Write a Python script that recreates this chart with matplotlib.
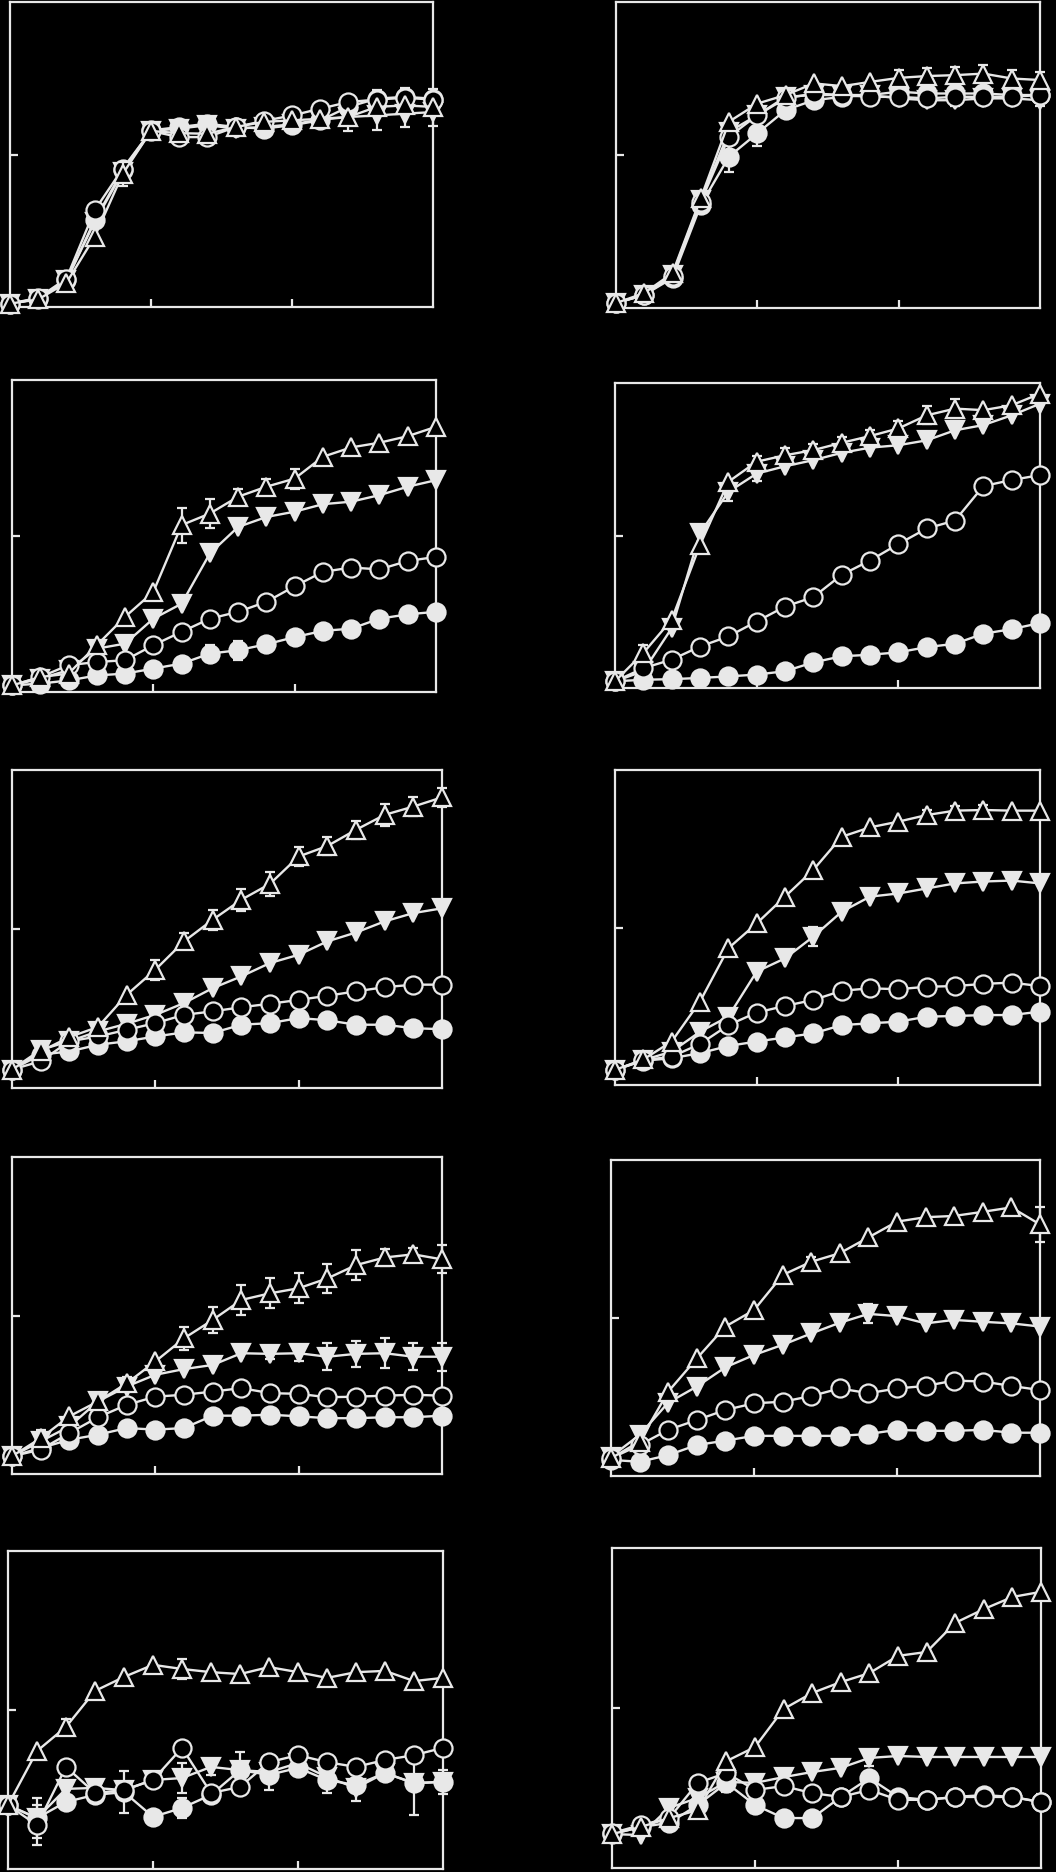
import matplotlib
matplotlib.use('Agg')
import matplotlib.pyplot as plt
import numpy as np

# tempo (16 punti, 0..15)
x = np.arange(16)

# valori, in % dell'asse y
# pannello a (alto sinistra)
a_open   = [1.1, 3.0, 9.3, 31.7, 45.4, 57.7, 55.7, 55.7, 59.0, 61.0, 62.8, 65.0, 67.2, 68.0, 68.6, 68.0]
a_filled = [1.1, 2.7, 8.7, 28.4, 44.8, 57.9, 59.0, 60.1, 59.0, 58.5, 59.6, 61.2, 65.6, 68.3, 68.9, 68.3]
a_down   = [1.1, 2.7, 8.7, 27.9, 44.3, 57.7, 58.5, 59.6, 58.5, 59.0, 59.9, 61.4, 62.3, 62.8, 63.4, 63.9]
a_up     = [1.1, 2.5, 7.9, 23.0, 43.7, 57.7, 57.0, 56.8, 59.0, 60.7, 61.2, 61.7, 62.3, 65.6, 66.1, 65.6]
a_open_e   = [0, 0, 0, 0, 0, 0, 2, 2, 0, 0, 0, 0, 0, 0, 0, 0]
a_filled_e = [0, 0, 0, 0, 0, 0, 0, 0, 0, 0, 0, 0, 0, 3, 3, 3.3]
a_down_e   = [0, 0, 0, 0, 0, 0, 0, 0, 0, 0, 0, 0, 4.5, 4.9, 4.4, 4.4]
a_up_e     = [0, 0, 0, 0, 4, 0, 0, 0, 0, 0, 0, 0, 0, 0, 0, 0]

# pannello b (alto destra)
b_open   = [1.6, 4.3, 10.3, 34.8, 56.0, 63.0, 68.5, 70.1, 69.6, 69.0, 69.0, 68.5, 69.0, 69.0, 69.0, 69.6]
b_filled = [1.6, 4.3, 9.8, 33.7, 49.5, 57.1, 64.7, 67.9, 69.0, 69.6, 70.7, 70.1, 70.1, 70.1, 69.6, 69.6]
b_down   = [1.6, 4.3, 10.9, 35.3, 57.6, 63.0, 69.0, 69.6, 69.6, 69.6, 68.5, 67.9, 67.9, 68.5, 68.5, 67.9]
b_up     = [1.6, 4.9, 11.4, 35.9, 60.9, 66.8, 69.6, 73.4, 72.5, 73.9, 75.2, 75.8, 76.1, 76.6, 75.0, 74.5]
b_open_e   = [0] * 16
b_filled_e = [0, 0, 0, 0, 4.9, 4.3, 0, 0, 0, 0, 0, 0, 0, 0, 0, 0]
b_down_e   = [0, 0, 0, 0, 0, 0, 0, 0, 0, 0, 0, 2, 2, 2, 2, 2]
b_up_e     = [0, 0, 0, 0, 0, 0, 0, 0, 0, 0, 2.7, 2.7, 2.7, 2.7, 2.7, 2.7]

# pannello c
c_open   = [2.1, 4.8, 8.6, 9.6, 10.2, 15.0, 19.3, 23.5, 25.7, 28.9, 33.9, 38.5, 39.9, 39.3, 42.0, 43.3]
c_filled = [2.1, 2.7, 3.7, 5.3, 5.9, 7.5, 9.1, 12.3, 13.4, 15.3, 17.6, 19.6, 20.3, 23.5, 24.9, 25.7]
c_down   = [2.1, 4.3, 7.0, 13.9, 15.5, 23.5, 28.3, 44.4, 52.9, 56.1, 57.8, 60.2, 61.0, 63.1, 65.8, 67.9]
c_up     = [2.1, 4.8, 5.9, 15.0, 24.1, 32.1, 53.5, 57.2, 62.6, 65.8, 68.4, 75.4, 78.4, 79.9, 82.0, 85.0]
c_open_e   = [0] * 16
c_filled_e = [0, 0, 0, 0, 0, 0, 0, 2.7, 3.0, 0, 0, 0, 0, 0, 0, 0]
c_down_e   = [0] * 16
c_up_e     = [0, 0, 0, 0, 0, 0, 5.6, 4.5, 2.5, 2.5, 3.2, 0, 0, 0, 0, 0]

# pannello d
d_open   = [2.2, 6.5, 9.3, 13.6, 16.9, 21.8, 26.7, 29.8, 37.1, 41.8, 47.2, 52.3, 54.9, 66.2, 68.2, 69.8]
d_filled = [2.2, 2.7, 2.9, 3.3, 3.8, 4.4, 5.5, 8.4, 10.4, 10.9, 11.7, 13.4, 14.5, 17.8, 19.3, 21.3]
d_down   = [2.2, 5.5, 19.6, 50.7, 64.3, 70.3, 72.7, 74.7, 77.1, 78.8, 79.6, 81.2, 84.5, 86.2, 89.4, 93.2]
d_up     = [2.2, 11.5, 22.4, 46.9, 67.6, 74.2, 76.3, 78.0, 80.4, 82.6, 85.1, 89.4, 91.6, 91.1, 92.7, 96.5]
d_open_e   = [0] * 16
d_filled_e = [0] * 16
d_down_e   = [0, 0, 0, 0, 3, 2.5, 0, 0, 0, 0, 0, 0, 0, 0, 0, 0]
d_up_e     = [0, 2.7, 0, 0, 0, 2, 2.5, 2, 2, 2, 2.5, 3, 3, 0, 0, 0]

# pannello e
e_open   = [5.8, 8.4, 14.7, 16.2, 18.3, 20.4, 23.0, 24.1, 25.4, 26.5, 27.7, 29.0, 30.4, 31.7, 32.5, 32.5]
e_filled = [5.8, 10.5, 11.5, 13.6, 14.7, 16.2, 17.5, 17.3, 19.9, 20.4, 22.0, 21.3, 19.9, 19.9, 18.8, 18.5]
e_down   = [5.8, 12.0, 14.7, 17.8, 20.2, 23.0, 26.7, 31.4, 35.1, 39.3, 41.9, 46.1, 48.9, 52.4, 55.0, 56.5]
e_up     = [5.8, 11.5, 16.0, 19.2, 29.3, 37.2, 46.1, 52.9, 59.2, 64.2, 72.8, 76.1, 81.2, 85.9, 88.5, 91.4]
e_open_e   = [0] * 16
e_filled_e = [0] * 16
e_down_e   = [0] * 16
e_up_e     = [0, 0, 0, 0, 0, 3.1, 2.5, 3.1, 3.4, 3.7, 3.1, 2.9, 2.9, 3.4, 2.9, 2.9]

# pannello f
f_open   = [4.8, 7.9, 9.0, 13.0, 19.0, 23.0, 25.1, 27.0, 29.9, 30.7, 30.4, 31.2, 31.4, 32.1, 32.5, 31.4]
f_filled = [4.8, 7.7, 8.5, 10.1, 12.4, 13.8, 15.1, 16.4, 19.0, 19.6, 20.1, 21.7, 21.9, 22.2, 22.2, 23.3]
f_down   = [4.8, 7.9, 10.6, 16.9, 21.7, 36.0, 40.2, 47.1, 55.0, 59.8, 60.8, 62.4, 64.0, 64.6, 64.9, 64.0]
f_up     = [4.8, 8.1, 13.8, 26.5, 43.4, 51.3, 59.8, 68.3, 78.8, 81.8, 83.6, 85.7, 87.1, 87.3, 87.1, 87.1]
f_open_e   = [0] * 16
f_filled_e = [0] * 16
f_down_e   = [0, 0, 0, 0, 0, 0, 0, 3.0, 0, 0, 0, 0, 0, 0, 0, 0]
f_up_e     = [0, 0, 0, 0, 0, 0, 0, 0, 0, 0, 0, 1.5, 1.5, 1.5, 0, 0]

# pannello g
g_open   = [5.6, 7.7, 12.9, 17.9, 21.8, 24.4, 25.0, 26.0, 27.1, 25.5, 25.3, 24.2, 24.4, 24.7, 25.0, 24.7]
g_filled = [5.6, 8.2, 10.8, 12.4, 14.5, 14.0, 14.5, 18.4, 18.4, 18.7, 18.2, 17.6, 17.6, 17.9, 17.9, 18.4]
g_down   = [5.6, 10.3, 15.0, 22.9, 27.6, 31.3, 33.1, 34.4, 38.1, 37.9, 38.1, 37.0, 37.9, 38.1, 37.0, 37.0]
g_up     = [5.6, 11.3, 18.2, 22.9, 28.6, 35.5, 42.8, 48.6, 54.9, 57.0, 58.6, 61.7, 65.9, 68.3, 69.3, 67.7]
g_open_e   = [0] * 16
g_filled_e = [0] * 16
g_down_e   = [0, 0, 0, 0, 0, 0, 0, 0, 0, 1.6, 2.6, 4.2, 4.2, 4.7, 4.2, 4.4]
g_up_e     = [0, 2.6, 0, 0, 1.9, 0, 3.7, 4.0, 4.7, 4.7, 4.7, 4.7, 4.7, 2.6, 2.1, 4.4]

# pannello h
h_open   = [5.6, 9.8, 14.6, 17.7, 20.9, 23.0, 23.5, 25.3, 27.7, 26.2, 27.7, 28.5, 30.2, 29.9, 28.5, 27.2]
h_filled = [5.1, 4.5, 6.6, 9.8, 11.2, 12.7, 12.7, 12.7, 12.7, 13.3, 14.6, 14.3, 14.3, 14.6, 13.7, 13.7]
h_down   = [6.1, 13.0, 23.2, 28.3, 34.4, 38.3, 41.5, 45.1, 48.5, 51.3, 50.6, 48.3, 49.4, 48.8, 48.3, 47.3]
h_up     = [5.6, 10.9, 26.7, 37.2, 47.3, 52.5, 63.6, 67.8, 70.5, 75.5, 80.5, 81.9, 82.3, 83.6, 85.0, 79.6]
h_open_e   = [0] * 16
h_filled_e = [0] * 16
h_down_e   = [0, 0, 0, 0, 0, 0, 0, 0, 0, 3.0, 0, 0, 0, 0, 0, 0]
h_up_e     = [0, 0, 0, 0, 0, 0, 0, 1.5, 0, 0, 0, 0, 0, 0, 0, 5.6]

# pannello i
i_open   = [20.1, 13.8, 32.1, 23.9, 24.8, 28.0, 38.1, 23.9, 25.8, 33.6, 35.8, 33.6, 32.1, 34.3, 35.8, 38.1]
i_filled = [20.1, 16.0, 21.1, 23.3, 24.2, 16.4, 19.2, 23.3, 31.1, 29.6, 31.8, 28.0, 26.4, 30.2, 27.0, 27.4]
i_down   = [20.1, 16.0, 25.2, 25.5, 24.8, 28.0, 28.6, 32.1, 31.1, 30.5, 33.3, 28.9, 25.5, 30.2, 27.0, 27.4]
i_up     = [20.1, 37.1, 44.7, 56.0, 60.4, 64.2, 62.9, 61.9, 61.3, 63.5, 61.9, 60.1, 61.9, 62.3, 59.1, 60.1]
i_open_e   = [0, 6.3, 0, 0, 0, 0, 0, 0, 0, 0, 0, 0, 0, 0, 0, 0]
i_filled_e = [0, 6.3, 0, 0, 6.5, 0, 3.1, 0, 5.8, 4.7, 0, 4.2, 0, 0, 10, 3.7]
i_down_e   = [0, 0, 0, 0, 0, 0, 4.7, 2.6, 0, 0, 4.2, 0, 4.2, 0, 0, 0]
i_up_e     = [0, 0, 2.6, 0, 0, 0, 3.1, 0, 0, 0, 0, 0, 0, 0, 0, 0]

# pannello j
j_open   = [10.9, 13.4, 15.6, 26.6, 29.7, 24.4, 25.6, 23.4, 22.2, 24.4, 21.3, 21.3, 22.2, 22.2, 22.2, 20.6]
j_filled = [10.6, 12.8, 14.1, 19.7, 26.6, 19.7, 15.6, 15.6, 22.2, 28.1, 22.2, 21.3, 22.2, 22.8, 22.2, 20.6]
j_down   = [10.6, 10.3, 18.8, 21.9, 26.9, 26.6, 28.4, 30.0, 31.3, 34.4, 35.0, 34.7, 34.7, 34.7, 34.7, 34.7]
j_up     = [10.6, 12.8, 15.6, 18.1, 33.4, 37.8, 49.7, 54.7, 58.1, 60.9, 66.3, 67.5, 76.6, 80.9, 84.7, 86.3]
j_open_e   = [0, 0, 0, 0, 0, 0, 0, 0, 0, 0, 0, 0, 0, 0, 0, 2.5]
j_filled_e = [0, 0, 0, 0, 0, 2.5, 0, 0, 0, 0, 2, 0, 0, 0, 0, 0]
j_down_e   = [0, 0, 0, 0, 3, 0, 0, 0, 0, 2.5, 0, 0, 0, 0, 0, 0]
j_up_e     = [0] * 16

pannelli = [
    (a_open, a_filled, a_down, a_up, a_open_e, a_filled_e, a_down_e, a_up_e),
    (b_open, b_filled, b_down, b_up, b_open_e, b_filled_e, b_down_e, b_up_e),
    (c_open, c_filled, c_down, c_up, c_open_e, c_filled_e, c_down_e, c_up_e),
    (d_open, d_filled, d_down, d_up, d_open_e, d_filled_e, d_down_e, d_up_e),
    (e_open, e_filled, e_down, e_up, e_open_e, e_filled_e, e_down_e, e_up_e),
    (f_open, f_filled, f_down, f_up, f_open_e, f_filled_e, f_down_e, f_up_e),
    (g_open, g_filled, g_down, g_up, g_open_e, g_filled_e, g_down_e, g_up_e),
    (h_open, h_filled, h_down, h_up, h_open_e, h_filled_e, h_down_e, h_up_e),
    (i_open, i_filled, i_down, i_up, i_open_e, i_filled_e, i_down_e, i_up_e),
    (j_open, j_filled, j_down, j_up, j_open_e, j_filled_e, j_down_e, j_up_e),
]

# riquadri in pixel (x0, x1, y0, y1) misurati sull'immagine
riquadri = [
    (10, 433, 2, 307), (616, 1040, 2, 308),
    (12, 436, 380, 692), (615, 1040, 383, 688),
    (12, 442, 770, 1088), (615, 1040, 770, 1085),
    (12, 442, 1157, 1474), (611, 1040, 1160, 1476),
    (8, 443, 1551, 1869), (612, 1041, 1548, 1868),
]

W, H = 1056, 1872
col = '#e8e8e8'

f1 = plt.figure(figsize=(W / 100, H / 100), dpi=100, facecolor='black')

for (ys, box) in zip(pannelli, riquadri):
    x0, x1, y0, y1 = box
    ax = f1.add_axes([x0 / W, 1 - y1 / H, (x1 - x0) / W, (y1 - y0) / H])
    ax.set_facecolor('black')
    o, fi, dn, up, oe, fe, de, ue = ys

    # stile: (valori, errori, marker, riempimento, dimensione)
    serie = [(fi, fe, 'o', col, 13), (dn, de, 'v', col, 13.5),
             (o, oe, 'o', 'black', 13), (up, ue, '^', 'black', 13.5)]
    z = 3
    for val, err, mk, face, ms in serie:
        val = np.array(val)
        err = np.array(err, dtype=float)
        m = err > 0
        if m.any():
            ax.errorbar(x[m], val[m], yerr=err[m], fmt='none', ecolor=col,
                        elinewidth=1.6, capsize=3.8, capthick=1.6,
                        clip_on=False, zorder=z - 0.5)
        ax.plot(x, val, '-', color=col, lw=1.7, marker=mk, ms=ms,
                mfc=face, mec=col, mew=1.6, clip_on=False, zorder=z)
        z += 1

    ax.set_xlim(0, 15)
    ax.set_ylim(0, 100)
    ax.set_xticks([5, 10])
    ax.set_yticks([50])
    ax.tick_params(direction='in', length=6, width=1.6, color=col,
                   labelbottom=False, labelleft=False)
    for s in ax.spines.values():
        s.set_color(col)
        s.set_linewidth(1.6)

f1.savefig('out.png', dpi=100, facecolor='black')
